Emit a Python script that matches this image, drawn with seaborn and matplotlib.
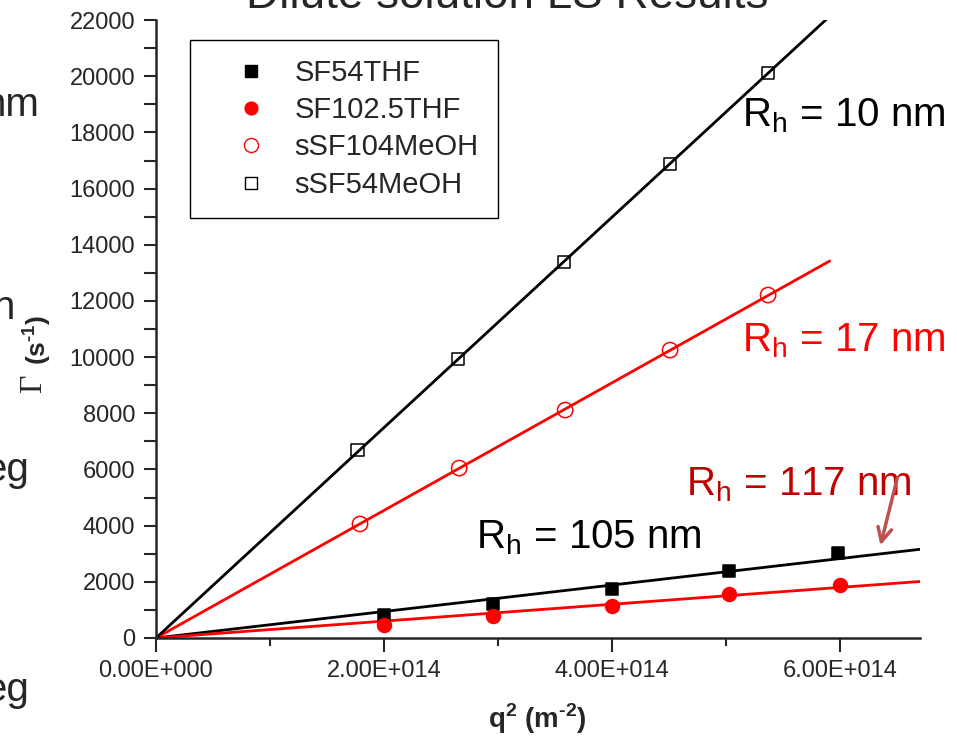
import numpy as np
import pandas as pd
import seaborn as sns
import matplotlib.pyplot as plt
from matplotlib.ticker import MultipleLocator, FuncFormatter
from matplotlib.lines import Line2D

# data: q^2 (m^-2) and decay rate Gamma (s^-1)
q2_sf54thf = [2.00e14, 2.96e14, 4.00e14, 5.03e14, 5.98e14]
gamma_sf54thf = [820, 1210, 1745, 2385, 3030]

q2_sf1025thf = [2.00e14, 2.96e14, 4.00e14, 5.03e14, 6.00e14]
gamma_sf1025thf = [465, 785, 1140, 1565, 1890]

q2_ssf104meoh = [1.79e14, 2.66e14, 3.59e14, 4.51e14, 5.37e14]
gamma_ssf104meoh = [4060, 6050, 8115, 10250, 12210]

q2_ssf54meoh = [1.77e14, 2.65e14, 3.58e14, 4.51e14, 5.37e14]
gamma_ssf54meoh = [6690, 9930, 13385, 16875, 20115]

series_names = ['SF54THF', 'SF102.5THF', 'sSF104MeOH', 'sSF54MeOH']
fit_end = [6.70e14, 6.70e14, 5.91e14, 5.91e14]

sns.set_style('ticks')
plt.rcParams['font.family'] = ['Liberation Sans', 'DejaVu Sans']
plt.rcParams['mathtext.fontset'] = 'custom'
plt.rcParams['mathtext.rm'] = 'Liberation Sans'

fig = plt.figure(figsize=(9.57, 7.44), dpi=100)
ax = fig.add_axes([0.163, 0.1425, 0.798, 0.8305])

series = [
    (q2_sf54thf, gamma_sf54thf, 's', 'black', 'black', 9),
    (q2_sf1025thf, gamma_sf1025thf, 'o', 'red', 'red', 10),
    (q2_ssf104meoh, gamma_ssf104meoh, 'o', 'none', 'red', 11),
    (q2_ssf54meoh, gamma_ssf54meoh, 's', 'none', 'black', 9),
]

handles = []
for (x, y, mk, fc, ec, ms), name, xend in zip(series, series_names, fit_end):
    x = np.array(x)
    y = np.array(y)
    # linear fit through the origin
    slope = np.sum(x * y) / np.sum(x * x)
    fit = pd.DataFrame({'q2': [0, xend], 'gamma': [0, slope * xend]})
    sns.lineplot(data=fit, x='q2', y='gamma', color=ec, lw=2, ax=ax, zorder=2)
    df = pd.DataFrame({'q2': x, 'gamma': y})
    sns.scatterplot(data=df, x='q2', y='gamma', marker=mk, s=ms ** 2,
                    facecolor=fc, edgecolor=ec, linewidth=1.1, ax=ax, zorder=3)
    handles.append(Line2D([], [], ls='none', marker=mk, markersize=ms * 0.92,
                          markerfacecolor=fc, markeredgecolor=ec, label=name))

ax.set_xlim(0, 6.70e14)
ax.set_ylim(0, 22000)
ax.xaxis.set_major_locator(MultipleLocator(2e14))
ax.xaxis.set_minor_locator(MultipleLocator(1e14))
ax.yaxis.set_major_locator(MultipleLocator(2000))
ax.yaxis.set_minor_locator(MultipleLocator(1000))


def sci_fmt(v, pos):
    if v == 0:
        return '0.00E+000'
    e = int(np.floor(np.log10(abs(v))))
    return f'{v / 10 ** e:.2f}E+{e:03d}'


ax.xaxis.set_major_formatter(FuncFormatter(sci_fmt))
ax.tick_params(which='both', direction='out', width=1.5, labelsize=17)
ax.tick_params(axis='y', which='both', length=9, pad=6)
ax.tick_params(axis='x', which='major', length=10, pad=6)
ax.tick_params(axis='x', which='minor', length=6)
for side in ['top', 'right']:
    ax.spines[side].set_visible(False)
for side in ['left', 'bottom']:
    ax.spines[side].set_linewidth(1.8)

hy = '\u2010'
ax.set_xlabel(r'q$^\mathregular{2}$ (m$^\mathregular{' + hy + '2}$)', fontsize=20,
              fontweight='bold', labelpad=14)
ax.set_ylabel('')
# y label: serif Gamma plus sans-serif unit
fig.text(34 / 957, 1 - 384 / 744, 'Γ', rotation=90, fontsize=23,
         ha='center', va='center', family=['Liberation Serif', 'DejaVu Serif'])
fig.text(37 / 957, 1 - 340 / 744, r'(s$^\mathregular{' + hy + '1}$)', rotation=90,
         fontsize=19, fontweight='bold', ha='center', va='center')

leg = ax.legend(handles=handles, loc='upper left', bbox_to_anchor=(0.044, 0.968),
                borderaxespad=0, fontsize=21, frameon=True, fancybox=False,
                framealpha=1, edgecolor='black', handletextpad=0.05,
                labelspacing=0.32, borderpad=0.65, handlelength=2.9)
leg.get_frame().set_linewidth(1.0)

ann = dict(fontsize=29, va='center', ha='left', annotation_clip=False)
ax.annotate(r'R$_\mathregular{h}$ = 10 nm', (5.14e14, 18600), color='black', **ann)
ax.annotate(r'R$_\mathregular{h}$ = 17 nm', (5.14e14, 10600), color='#ff0000', **ann)
ax.annotate(r'R$_\mathregular{h}$ = 117 nm', (4.65e14, 5450), color='#c00000', **ann)
ax.annotate(r'R$_\mathregular{h}$ = 105 nm', (2.81e14, 3560), color='black', **ann)
ax.annotate('', xy=(6.35e14, 3200), xytext=(6.51e14, 5800),
            arrowprops=dict(arrowstyle='->', color='#c0504d', lw=2.5, mutation_scale=25))

# slide text partly hidden behind the chart
fig.text(0.53, 1 - 8 / 744, 'Dilute solution LS Results', fontsize=33, ha='center', va='baseline')
for txt, xpix, ypix in [('nm', 39, 105), ('n', 15, 308), ('eg', 29, 470), ('eg', 29, 690)]:
    fig.text(xpix / 957, 1 - ypix / 744, txt, fontsize=29, ha='right', va='center')

fig.savefig('out.png', dpi=100)
